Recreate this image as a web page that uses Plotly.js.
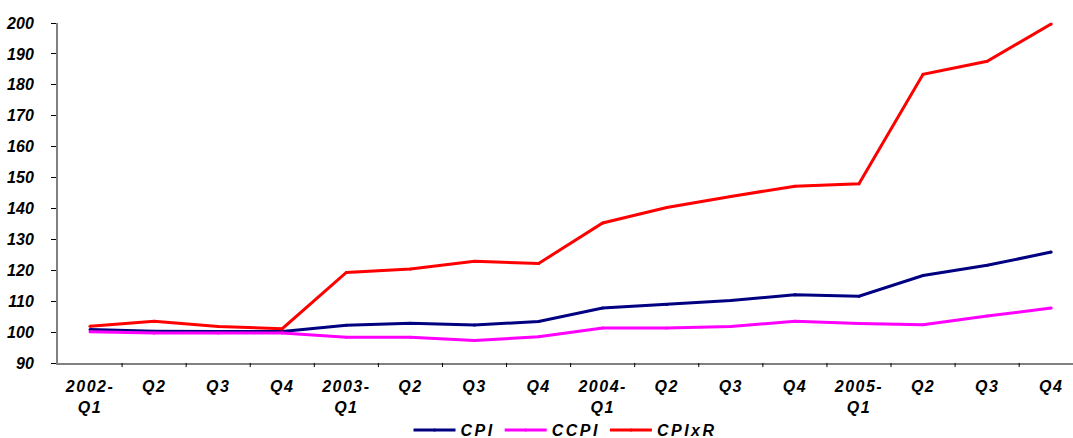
<!DOCTYPE html>
<html>
<head>
<meta charset="utf-8">
<script src="https://cdn.plot.ly/plotly-3.0.1.min.js"></script>
<style>
  html, body { margin: 0; padding: 0; background: #fff; }
  #chart { width: 1073px; height: 438px; }
  g.xtick text, g.xtick tspan { letter-spacing: 1.5px; }
  text.legendtext { letter-spacing: 2.5px; }
</style>
</head>
<body>
<div id="chart"></div>
<script>
// Quarterly index values, 2002-Q1 to 2005-Q4
const quarters = [
  "2002-<br>Q1", "Q2", "Q3", "Q4",
  "2003-<br>Q1", "Q2", "Q3", "Q4",
  "2004-<br>Q1", "Q2", "Q3", "Q4",
  "2005-<br>Q1", "Q2", "Q3", "Q4"
];
const cpi = [100.8, 100.3, 100.2, 100.2, 102.2, 102.9, 102.3, 103.4,
             107.8, 108.9, 110.2, 112.1, 111.6, 118.3, 121.6, 125.9];
const ccpi = [100.1, 99.7, 99.7, 99.7, 98.3, 98.3, 97.3, 98.5,
              101.3, 101.3, 101.8, 103.5, 102.8, 102.4, 105.2, 107.8];
const cpixr = [101.9, 103.5, 101.8, 101.1, 119.3, 120.4, 122.9, 122.2,
               135.3, 140.3, 143.9, 147.2, 148.0, 183.4, 187.6, 199.7];

const seriesNames = ["CPI", "CCPI", "CPIxR"];
const seriesColors = ["#000080", "#ff00ff", "#ff0000"];
const seriesValues = [cpi, ccpi, cpixr];

const fontFamily = '"Liberation Sans", Arial, sans-serif';
const labelFont = { family: fontFamily, size: 16, color: "#000", weight: "bold", style: "italic" };

const xIdx = quarters.map((_, i) => i);

const traces = seriesNames.map((name, k) => ({
  type: "scatter",
  mode: "lines+markers",
  name: name,
  x: xIdx,
  y: seriesValues[k],
  line: { color: seriesColors[k], width: 3 },
  marker: { color: seriesColors[k], size: 3 },
  cliponaxis: false
}));

const layout = {
  width: 1073,
  height: 438,
  paper_bgcolor: "#fff",
  plot_bgcolor: "#fff",
  margin: { l: 58, r: 0, t: 23, b: 75, pad: 0, autoexpand: false },
  showlegend: true,
  legend: {
    orientation: "h",
    xref: "paper", x: 0.5, xanchor: "center",
    yref: "container", y: 0.018, yanchor: "middle",
    bgcolor: "rgba(0,0,0,0)",
    font: labelFont,
    itemwidth: 42,
    tracegroupgap: 0
  },
  xaxis: {
    type: "linear",
    range: [-0.5, 15.34],
    tickmode: "array",
    tickvals: xIdx,
    ticktext: quarters,
    showgrid: false,
    zeroline: false,
    showline: true,
    linecolor: "#808080",
    linewidth: 2,
    ticks: "",
    tickfont: labelFont,
    ticklabelstandoff: 8,
    ticklabeloverflow: "allow"
  },
  yaxis: {
    range: [90, 200],
    dtick: 10,
    tick0: 90,
    showgrid: false,
    zeroline: false,
    showline: true,
    linecolor: "#808080",
    linewidth: 2,
    ticks: "outside",
    ticklen: 5,
    tickcolor: "#000",
    tickwidth: 1,
    tickfont: labelFont,
    ticklabelstandoff: 14
  },
  shapes: xIdx.slice(1).map(i => ({
    type: "line", xref: "x", yref: "paper",
    x0: i - 0.5, x1: i - 0.5, y0: 0, y1: -0.012,
    line: { color: "#000", width: 1 }
  }))
};

Plotly.newPlot("chart", traces, layout, { displayModeBar: false, staticPlot: true });
</script>
</body>
</html>
